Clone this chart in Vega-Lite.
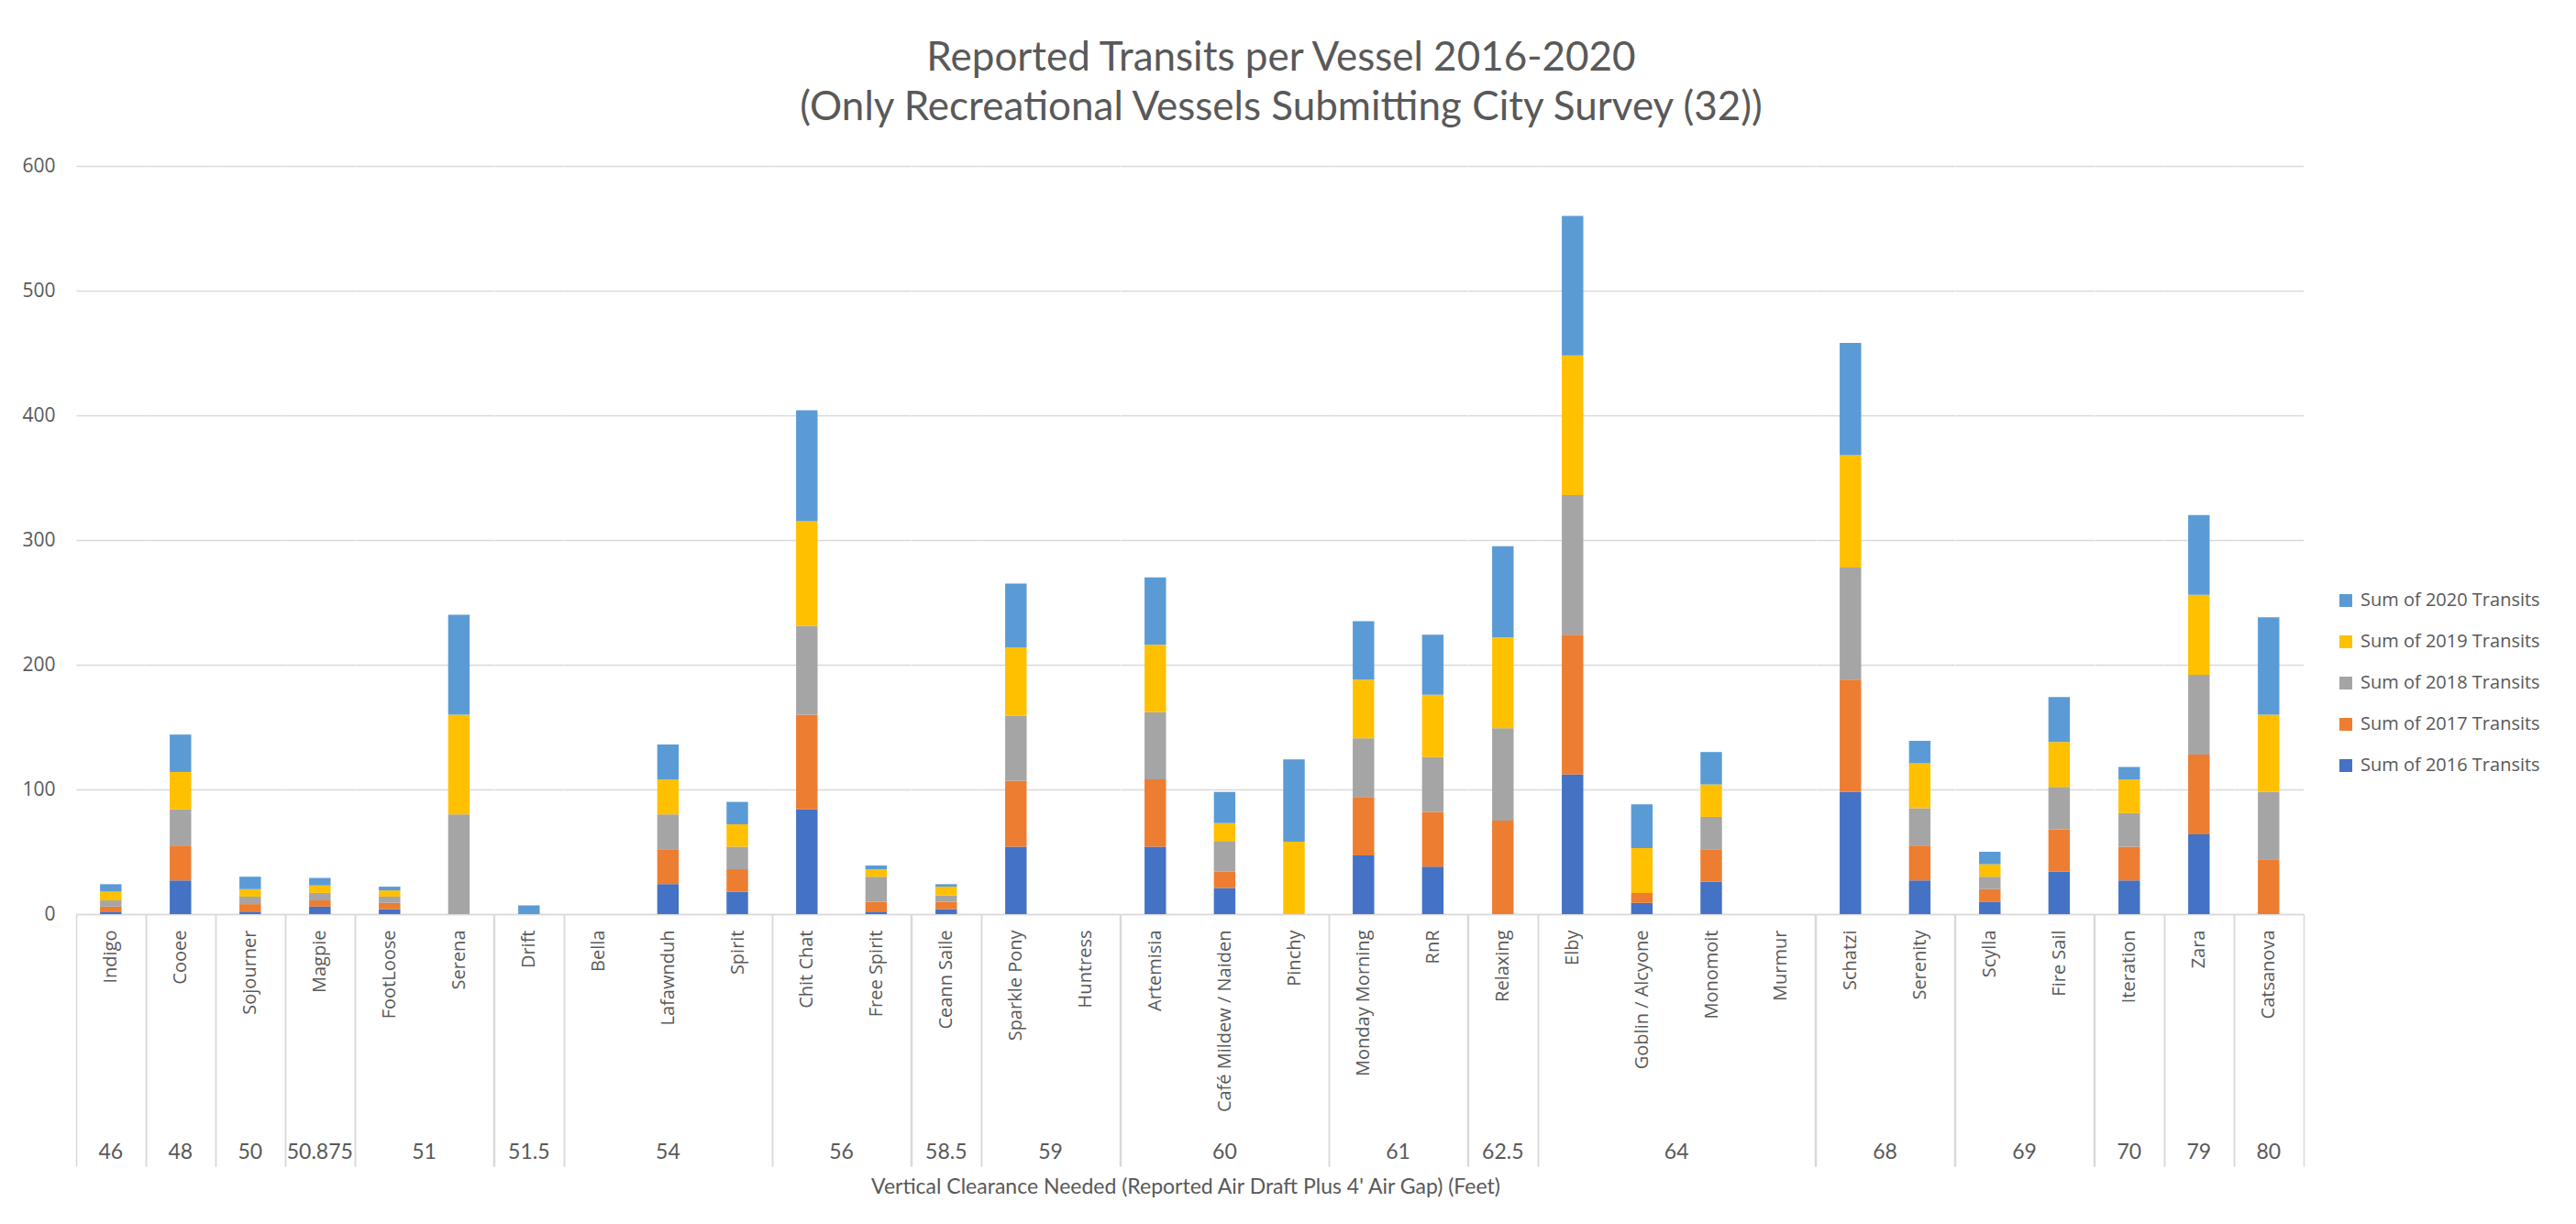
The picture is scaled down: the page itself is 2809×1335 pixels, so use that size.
{
  "$schema": "https://vega.github.io/schema/vega-lite/v6.json",
  "background": "white",
  "padding": {"left": 23, "top": 42, "right": 20, "bottom": 10},
  "bounds": "flush",
  "title": {
    "text": ["Reported Transits per Vessel 2016-2020", "(Only Recreational Vessels Submitting City Survey (32))"],
    "font": "Lato",
    "fontSize": 44,
    "fontWeight": "normal",
    "color": "#595959",
    "lineHeight": 54,
    "anchor": "middle",
    "offset": 30
  },
  "data": {
    "values": [
      {"v": "Indigo", "c": "46", "2016": 2, "2017": 4, "2018": 5, "2019": 7, "2020": 6},
      {"v": "Cooee", "c": "48", "2016": 27, "2017": 28, "2018": 29, "2019": 30, "2020": 30},
      {"v": "Sojourner", "c": "50", "2016": 2, "2017": 6, "2018": 6, "2019": 6, "2020": 10},
      {"v": "Magpie", "c": "50.875", "2016": 6, "2017": 5, "2018": 6, "2019": 6, "2020": 6},
      {"v": "FootLoose", "c": "51", "2016": 4, "2017": 5, "2018": 5, "2019": 5, "2020": 3},
      {"v": "Serena", "c": "51", "2016": 0, "2017": 0, "2018": 80, "2019": 80, "2020": 80},
      {"v": "Drift", "c": "51.5", "2016": 0, "2017": 0, "2018": 0, "2019": 0, "2020": 7},
      {"v": "Bella", "c": "54", "2016": 0, "2017": 0, "2018": 0, "2019": 0, "2020": 0},
      {"v": "Lafawnduh", "c": "54", "2016": 24, "2017": 28, "2018": 28, "2019": 28, "2020": 28},
      {"v": "Spirit", "c": "54", "2016": 18, "2017": 18, "2018": 18, "2019": 18, "2020": 18},
      {"v": "Chit Chat", "c": "56", "2016": 84, "2017": 76, "2018": 71, "2019": 84, "2020": 89},
      {"v": "Free Spirit", "c": "56", "2016": 2, "2017": 8, "2018": 20, "2019": 6, "2020": 3},
      {"v": "Ceann Saile", "c": "58.5", "2016": 4, "2017": 6, "2018": 5, "2019": 7, "2020": 2},
      {"v": "Sparkle Pony", "c": "59", "2016": 54, "2017": 53, "2018": 52, "2019": 55, "2020": 51},
      {"v": "Huntress", "c": "59", "2016": 0, "2017": 0, "2018": 0, "2019": 0, "2020": 0},
      {"v": "Artemisia", "c": "60", "2016": 54, "2017": 54, "2018": 54, "2019": 54, "2020": 54},
      {"v": "Café Mildew / Naiden", "c": "60", "2016": 21, "2017": 13, "2018": 24, "2019": 15, "2020": 25},
      {"v": "Pinchy", "c": "60", "2016": 0, "2017": 0, "2018": 0, "2019": 58, "2020": 66},
      {"v": "Monday Morning", "c": "61", "2016": 47, "2017": 47, "2018": 47, "2019": 47, "2020": 47},
      {"v": "RnR", "c": "61", "2016": 38, "2017": 44, "2018": 44, "2019": 50, "2020": 48},
      {"v": "Relaxing", "c": "62.5", "2016": 0, "2017": 75, "2018": 74, "2019": 73, "2020": 73},
      {"v": "Elby", "c": "64", "2016": 112, "2017": 112, "2018": 112, "2019": 112, "2020": 112},
      {"v": "Goblin / Alcyone", "c": "64", "2016": 9, "2017": 8, "2018": 0, "2019": 36, "2020": 35},
      {"v": "Monomoit", "c": "64", "2016": 26, "2017": 26, "2018": 26, "2019": 26, "2020": 26},
      {"v": "Murmur", "c": "64", "2016": 0, "2017": 0, "2018": 0, "2019": 0, "2020": 0},
      {"v": "Schatzi", "c": "68", "2016": 98, "2017": 90, "2018": 90, "2019": 90, "2020": 90},
      {"v": "Serenity", "c": "68", "2016": 27, "2017": 28, "2018": 30, "2019": 36, "2020": 18},
      {"v": "Scylla", "c": "69", "2016": 10, "2017": 10, "2018": 10, "2019": 10, "2020": 10},
      {"v": "Fire Sail", "c": "69", "2016": 34, "2017": 34, "2018": 34, "2019": 36, "2020": 36},
      {"v": "Iteration", "c": "70", "2016": 27, "2017": 27, "2018": 27, "2019": 27, "2020": 10},
      {"v": "Zara", "c": "79", "2016": 64, "2017": 64, "2018": 64, "2019": 64, "2020": 64},
      {"v": "Catsanova", "c": "80", "2016": 0, "2017": 44, "2018": 54, "2019": 62, "2020": 78}
    ]
  },
  "transform": [
    {"fold": ["2016", "2017", "2018", "2019", "2020"], "as": ["year", "transits"]}
  ],
  "facet": {
    "column": {
      "field": "c",
      "type": "nominal",
      "sort": ["46", "48", "50", "50.875", "51", "51.5", "54", "56", "58.5", "59", "60", "61", "62.5", "64", "68", "69", "70", "79", "80"],
      "title": "Vertical Clearance Needed (Reported Air Draft Plus 4' Air Gap) (Feet)",
      "header": {
        "labelOrient": "bottom",
        "labelFont": "Lato",
        "labelFontSize": 23,
        "labelColor": "#595959",
        "labelPadding": 249,
        "titleOrient": "bottom",
        "titleFont": "Lato",
        "titleFontSize": 23,
        "titleFontWeight": "normal",
        "titleColor": "#595959",
        "titlePadding": 5
      }
    }
  },
  "spacing": {"column": 0},
  "resolve": {"scale": {"x": "independent"}},
  "spec": {
    "width": {"step": 75.6},
    "height": 816,
    "mark": {"type": "bar", "width": {"band": 0.31}},
    "encoding": {
      "x": {
        "field": "v",
        "type": "nominal",
        "sort": ["Indigo", "Cooee", "Sojourner", "Magpie", "FootLoose", "Serena", "Drift", "Bella", "Lafawnduh", "Spirit", "Chit Chat", "Free Spirit", "Ceann Saile", "Sparkle Pony", "Huntress", "Artemisia", "Café Mildew / Naiden", "Pinchy", "Monday Morning", "RnR", "Relaxing", "Elby", "Goblin / Alcyone", "Monomoit", "Murmur", "Schatzi", "Serenity", "Scylla", "Fire Sail", "Iteration", "Zara", "Catsanova"],
        "scale": {"paddingInner": 0, "paddingOuter": 0},
        "axis": {
          "title": null,
          "labelAngle": -90,
          "labelAlign": "right",
          "labelBaseline": "middle",
          "labelFont": "Open Sans",
          "labelFontSize": 20,
          "labelColor": "#595959",
          "labelLimit": 400,
          "labelPadding": -258,
          "ticks": true,
          "tickBand": "extent",
          "tickExtra": true,
          "tickSize": 275,
          "tickColor": "#d9d9d9",
          "tickWidth": 1.5,
          "tickOpacity": {
            "condition": {
              "test": "!isValid(datum.value) || indexof(['Indigo','Cooee','Sojourner','Magpie','Serena','Drift','Spirit','Free Spirit','Ceann Saile','Huntress','Pinchy','RnR','Relaxing','Murmur','Serenity','Fire Sail','Iteration','Zara','Catsanova'], datum.value) >= 0",
              "value": 1
            },
            "value": 0
          },
          "domainColor": "#d9d9d9",
          "domainWidth": 1.5,
          "grid": false
        }
      },
      "y": {
        "field": "transits",
        "type": "quantitative",
        "stack": "zero",
        "scale": {"domain": [0, 600]},
        "axis": {
          "title": null,
          "values": [0, 100, 200, 300, 400, 500, 600],
          "domain": false,
          "ticks": false,
          "labelFont": "Open Sans",
          "labelFontSize": 21,
          "labelColor": "#595959",
          "labelPadding": 23,
          "gridColor": "#d9d9d9",
          "gridWidth": 1.5
        }
      },
      "color": {
        "field": "year",
        "type": "nominal",
        "scale": {
          "domain": ["2020", "2019", "2018", "2017", "2016"],
          "range": ["#5B9BD5", "#FFC000", "#A5A5A5", "#ED7D31", "#4472C4"]
        },
        "legend": {
          "title": null,
          "orient": "none",
          "legendX": 2465,
          "legendY": 464,
          "padding": 0,
          "symbolType": "square",
          "symbolSize": 196,
          "symbolStrokeWidth": 0,
          "labelFont": "Open Sans",
          "labelFontSize": 20,
          "labelColor": "#595959",
          "labelLimit": 400,
          "labelOffset": 6,
          "rowPadding": 25,
          "labelExpr": "'Sum of ' + datum.label + ' Transits'"
        }
      },
      "order": {"field": "year", "sort": "ascending"}
    }
  },
  "config": {
    "view": {"stroke": null},
    "font": "Open Sans"
  }
}
